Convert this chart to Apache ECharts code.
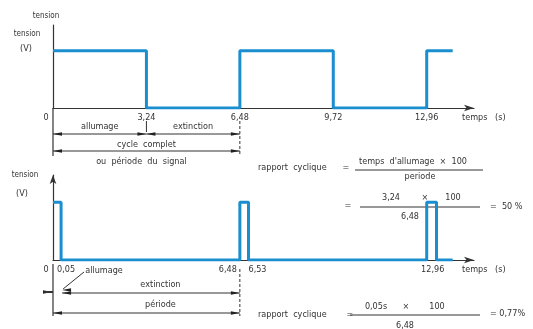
<!DOCTYPE html>
<html>
<head>
<meta charset="utf-8">
<script src="https://cdn.jsdelivr.net/npm/echarts@6/dist/echarts.min.js"></script>
<style>
  html, body { margin: 0; padding: 0; background: #fff; }
  #main { width: 533px; height: 329px; }
</style>
</head>
<body>
<div id="main"></div>
<script>
// signal data (time in s, level 0/1)
const topSignal = [[0, 1], [3.24, 1], [3.24, 0], [6.48, 0], [6.48, 1], [9.72, 1], [9.72, 0], [12.96, 0], [12.96, 1], [13.86, 1]]
const pulseSignal = [[0, 1], [0.28, 1], [0.28, 0], [6.48, 0], [6.48, 1], [6.78, 1], [6.78, 0], [12.96, 0], [12.96, 1], [13.3, 1], [13.3, 0], [13.86, 0]]

// tick labels: position on the time axis, text, style key
const topTicks = [
  { value: 0, text: '0', style: 'zero' },
  { value: 3.24, text: '3,24', style: 'c' },
  { value: 6.48, text: '6,48', style: 'c' },
  { value: 9.72, text: '9,72', style: 'c' },
  { value: 12.96, text: '12,96', style: 'c' }
]
const pulseTicks = [
  { value: 0, text: '0', style: 'zero' },
  { value: 0.28, text: '0,05', style: 'r1' },
  { value: 6.48, text: '6,48', style: 'l1' },
  { value: 6.78, text: '6,53', style: 'r2' },
  { value: 12.96, text: '12,96', style: 'r3' }
]

const FONT = "'DejaVu Sans Condensed', 'DejaVu Sans', sans-serif"
const INK = '#333'
const BLUE = '#1b8ed0'

let chart = echarts.init(document.getElementById('main'), null, { renderer: 'canvas' })

function tickLabel(ticks) {
  return {
    customValues: ticks.map(t => t.value),
    margin: 5,
    color: INK,
    fontFamily: FONT,
    fontSize: 9,
    formatter: function (v) {
      let t = ticks.find(k => Math.abs(k.value - v) < 1e-6)
      return t ? '{' + t.style + '|' + t.text + '}' : ''
    },
    rich: {
      zero: { padding: [0, 14, 0, 0], fontFamily: FONT, fontSize: 9, color: INK },
      c: { fontFamily: FONT, fontSize: 9, color: INK },
      r1: { padding: [0, 0, 0, 10], fontFamily: FONT, fontSize: 9, color: INK },
      l1: { padding: [0, 24, 0, 0], fontFamily: FONT, fontSize: 9, color: INK },
      r2: { padding: [0, 0, 0, 18], fontFamily: FONT, fontSize: 9, color: INK },
      r3: { padding: [0, 0, 0, 12], fontFamily: FONT, fontSize: 9, color: INK }
    }
  }
}

function timeAxis(gridIndex, ticks) {
  return {
    type: 'value',
    gridIndex: gridIndex,
    min: 0,
    max: 14.6,
    axisLine: { show: true, symbol: ['none', 'arrow'], symbolSize: [5, 10], lineStyle: { color: '#333', width: 1.2 } },
    axisTick: { show: false },
    splitLine: { show: false },
    axisLabel: tickLabel(ticks)
  }
}

function levelAxis(gridIndex, max, arrow) {
  return {
    type: 'value',
    gridIndex: gridIndex,
    min: 0,
    max: max,
    axisLine: { show: true, symbol: arrow ? ['none', 'arrow'] : 'none', symbolSize: [5, 9], lineStyle: { color: '#333', width: 1.2 } },
    axisTick: { show: false },
    axisLabel: { show: false },
    splitLine: { show: false }
  }
}

let option = {
  animation: false,
  grid: [
    { left: 53, top: 25, width: 421, height: 83 },
    { left: 53, top: 175, width: 421, height: 85 }
  ],
  xAxis: [timeAxis(0, topTicks), timeAxis(1, pulseTicks)],
  yAxis: [levelAxis(0, 1.45, false), levelAxis(1, 1.47, true)],
  series: [
    {
      type: 'line', xAxisIndex: 0, yAxisIndex: 0, data: topSignal,
      showSymbol: false, silent: true,
      lineStyle: { color: BLUE, width: 3 }
    },
    {
      type: 'line', xAxisIndex: 1, yAxisIndex: 1, data: pulseSignal,
      showSymbol: false, silent: true,
      lineStyle: { color: BLUE, width: 3 }
    }
  ]
}

chart.setOption(option)

// annotations (dimension lines, texts) placed through the axes
function P(g, x, y) {
  return chart.convertToPixel({ gridIndex: g }, [x, y])
}

let gfx = []

function txt(x, y, s, size, align) {
  gfx.push({
    type: 'text', x: x, y: y, silent: true,
    style: { text: s, fill: INK, font: (size || 9) + 'px ' + FONT, align: align || 'center', verticalAlign: 'middle' }
  })
}
function ln(x1, y1, x2, y2, dash, w) {
  gfx.push({
    type: 'line', silent: true,
    shape: { x1: x1, y1: y1, x2: x2, y2: y2 },
    style: { stroke: '#333', lineWidth: w || 1, lineDash: dash ? [3, 2] : null }
  })
}
function head(x, y, dir) {
  gfx.push({
    type: 'polygon', silent: true,
    shape: { points: [[x, y], [x - dir * 9, y - 1.8], [x - dir * 9, y + 1.8]] },
    style: { fill: '#222' }
  })
}
function dim(x1, x2, y) {
  ln(x1, y, x2, y)
  head(x1, y, -1)
  head(x2, y, 1)
}

// top chart
let b0 = P(0, 0, 0)
let x0 = b0[0], y0 = b0[1]
let xa = P(0, 3.24, 0)[0], xb = P(0, 6.48, 0)[0]
ln(x0, y0, x0, y0 + 48, false, 1.2)
ln(xa, y0 + 13, xa, y0 + 24)
ln(xb, y0 + 13, xb, y0 + 48, true)
dim(x0, xa, y0 + 26)
dim(xa, xb, y0 + 26)
dim(x0, xb, y0 + 43)
txt((x0 + xa) / 2, y0 + 19, 'allumage')
txt((xa + xb) / 2, y0 + 19, 'extinction')
txt((x0 + xb) / 2, y0 + 37, 'cycle  complet')
txt((x0 + xb) / 2 - 5, y0 + 54, 'ou  période  du  signal')
txt(462, y0 + 10, 'temps   (s)', 9, 'left')
txt(46, 16, 'tension', 8)
txt(27, 34, 'tension', 8)
txt(26, 49, '(V)', 9)

// bottom chart
let b1 = P(1, 0, 0)
let x1 = b1[0], y1 = b1[1]
let xp = P(1, 0.28, 0)[0], xq = P(1, 6.48, 0)[0]
ln(x1, y1 + 4, x1, y1 + 56, false, 1.2)
ln(xq, y1 + 9, xq, y1 + 56, true)
dim(xp + 1, xq, y1 + 33)
dim(x1, xq, y1 + 53)
head(x1 - 1, y1 + 32, 1)
ln(x1 - 9, y1 + 32, x1, y1 + 32, false, 2)
ln(84, y1 + 12, xp + 2, y1 + 29)
head(xp + 1, y1 + 30, -1)
txt(104, y1 + 11, 'allumage')
txt((x1 + xq) / 2 + 14, y1 + 25, 'extinction')
txt((x1 + xq) / 2 + 14, y1 + 45, 'période')
txt(462, y1 + 10, 'temps   (s)', 9, 'left')
txt(25, 175, 'tension', 8)
txt(22, 194, '(V)', 9)

// duty cycle formulas
txt(258, 168, 'rapport  cyclique', 9, 'left')
txt(346, 168, '=')
txt(413, 162, "temps  d'allumage  ×  100", 9)
ln(355, 170, 483, 170)
txt(420, 177, 'periode', 9)

txt(348, 206, '=')
txt(391, 198, '3,24', 9)
txt(425, 198, '×', 9)
txt(453, 198, '100', 9)
ln(360, 207, 480, 207)
txt(410, 217, '6,48', 9)
txt(490, 207, '=  50 %', 9, 'left')

txt(258, 315, 'rapport  cyclique', 9, 'left')
txt(350, 315, '=')
txt(376, 307, '0,05s', 9)
txt(406, 307, '×', 9)
txt(437, 307, '100', 9)
ln(350, 315, 480, 315)
txt(405, 326, '6,48', 9)
txt(490, 314, '= 0,77%', 9, 'left')

chart.setOption({ graphic: gfx })
</script>
</body>
</html>
